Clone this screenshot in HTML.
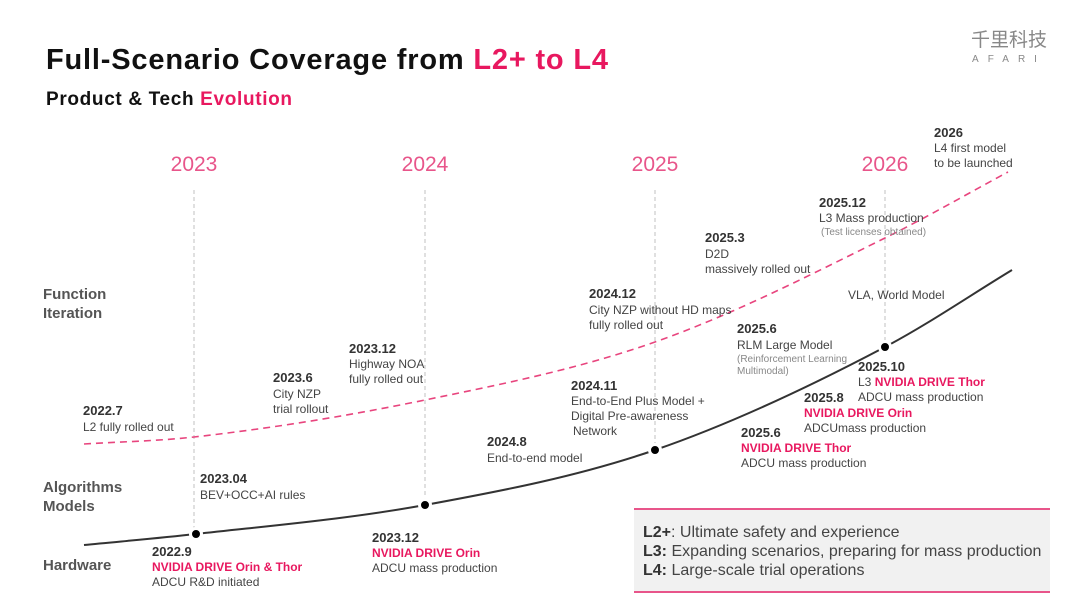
<!DOCTYPE html>
<html><head><meta charset="utf-8"><style>
body{margin:0;background:#fff;}
svg{display:block;font-family:"Liberation Sans","Noto Sans CJK SC",sans-serif;}
.d{font-size:13px;font-weight:bold;fill:#333}
.t{font-size:12px;fill:#444}
.p{font-size:12px;font-weight:bold;fill:#e8185f}
.s{font-size:10px;fill:#888}
.r{font-size:15px;font-weight:bold;fill:#555}
.y{font-size:21px;fill:#e8558a;text-anchor:middle}
</style></head><body>
<svg width="1080" height="608" viewBox="0 0 1080 608">
<text x="46" y="69" font-size="29" font-weight="bold" fill="#111" textLength="562">Full-Scenario Coverage from <tspan fill="#e8185f">L2+ to L4</tspan></text>
<text x="46" y="105" font-size="19" font-weight="bold" fill="#111" textLength="246">Product &amp; Tech <tspan fill="#e8185f">Evolution</tspan></text>
<text x="1009" y="46" font-size="19" fill="#888" text-anchor="middle">千里科技</text>
<text x="1009" y="62" font-size="10" fill="#888" text-anchor="middle" letter-spacing="9">AFARI</text>
<g id="grid"></g>
<g id="curves"></g>
<g>
<text class="r" x="43" y="299">Function</text><text class="r" x="43" y="318">Iteration</text>
<text class="r" x="43" y="492">Algorithms</text><text class="r" x="43" y="511">Models</text>
<text class="r" x="43" y="570">Hardware</text>
</g>
<g>
<text class="d" x="934" y="137">2026</text><text class="t" x="934" y="152">L4 first model</text><text class="t" x="934" y="167">to be launched</text>
<text class="d" x="819" y="207">2025.12</text><text class="t" x="819" y="222">L3 Mass production</text><text class="s" x="821" y="235">(Test licenses obtained)</text>
<text class="d" x="705" y="242">2025.3</text><text class="t" x="705" y="258">D2D</text><text class="t" x="705" y="273">massively rolled out</text>
<text class="d" x="589" y="298">2024.12</text><text class="t" x="589" y="314">City NZP without HD maps</text><text class="t" x="589" y="329">fully rolled out</text>
<text class="d" x="349" y="353">2023.12</text><text class="t" x="349" y="368">Highway NOA</text><text class="t" x="349" y="383">fully rolled out</text>
<text class="d" x="273" y="382">2023.6</text><text class="t" x="273" y="398">City NZP</text><text class="t" x="273" y="413">trial rollout</text>
<text class="d" x="83" y="415">2022.7</text><text class="t" x="83" y="431">L2 fully rolled out</text>
</g>
<g>
<text class="t" x="848" y="299">VLA, World Model</text>
<text class="d" x="737" y="333">2025.6</text><text class="t" x="737" y="349">RLM Large Model</text><text class="s" x="737" y="362">(Reinforcement Learning</text><text class="s" x="737" y="374">Multimodal)</text>
<text class="d" x="571" y="390">2024.11</text><text class="t" x="571" y="405">End-to-End Plus Model +</text><text class="t" x="571" y="420">Digital Pre-awareness</text><text class="t" x="573" y="435"> Network</text>
<text class="d" x="487" y="446">2024.8</text><text class="t" x="487" y="462">End-to-end model</text>
<text class="d" x="200" y="483">2023.04</text><text class="t" x="200" y="499">BEV+OCC+AI rules</text>
</g>
<g>
<text class="d" x="858" y="371">2025.10</text><text class="t" x="858" y="386">L3 <tspan class="p">NVIDIA DRIVE Thor</tspan></text><text class="t" x="858" y="401">ADCU mass production</text>
<text class="d" x="804" y="402">2025.8</text><text class="p" x="804" y="417">NVIDIA DRIVE Orin</text><text class="t" x="804" y="432">ADCUmass production</text>
<text class="d" x="741" y="437">2025.6</text><text class="p" x="741" y="452">NVIDIA DRIVE Thor</text><text class="t" x="741" y="467">ADCU mass production</text>
<text class="d" x="372" y="542">2023.12</text><text class="p" x="372" y="557">NVIDIA DRIVE Orin</text><text class="t" x="372" y="572">ADCU mass production</text>
<text class="d" x="152" y="556">2022.9</text><text class="p" x="152" y="571">NVIDIA DRIVE Orin &amp; Thor</text><text class="t" x="152" y="586">ADCU R&amp;D initiated</text>
</g>
<g>
<rect x="634" y="508" width="416" height="85" fill="#f1f1f1"/>
<line x1="634" y1="509" x2="1050" y2="509" stroke="#e8558a" stroke-width="2"/>
<line x1="634" y1="592" x2="1050" y2="592" stroke="#e8558a" stroke-width="2"/>
<text x="643" y="537" font-size="16" fill="#444"><tspan font-weight="bold" fill="#333">L2+</tspan>: Ultimate safety and experience</text>
<text x="643" y="556" font-size="16" fill="#444"><tspan font-weight="bold" fill="#333">L3:</tspan>  Expanding scenarios, preparing for mass production</text>
<text x="643" y="575" font-size="16" fill="#444"><tspan font-weight="bold" fill="#333">L4:</tspan>  Large-scale trial operations</text>
</g>
</svg>
<script>
const years=["2023","2024","2025","2026"];
const yearX=[194,425,655,885];
const hwX=[84,196,425,655,885,1012];
const hwY=[545,534,505,450,347,270];
const fnX=[84,194,425,655,885,1008];
const fnY=[444,437,400,342,238,172];
const dotIdx=[1,2,3,4];
const NS="http://www.w3.org/2000/svg";
function mk(t,a,p){const e=document.createElementNS(NS,t);for(const k in a)e.setAttribute(k,a[k]);p.appendChild(e);return e;}
function path(xs,ys){let d="M"+xs[0]+","+ys[0];const n=xs.length;const m=[];for(let i=0;i<n;i++){const a=i>0?(ys[i]-ys[i-1])/(xs[i]-xs[i-1]):null,b=i<n-1?(ys[i+1]-ys[i])/(xs[i+1]-xs[i]):null;m.push(a===null?b:b===null?a:(a+b)/2);}
for(let i=0;i<n-1;i++){const h=(xs[i+1]-xs[i])/3;d+=" C"+(xs[i]+h)+","+(ys[i]+m[i]*h)+" "+(xs[i+1]-h)+","+(ys[i+1]-m[i+1]*h)+" "+xs[i+1]+","+ys[i+1];}return d;}
const g=document.getElementById("grid"),c=document.getElementById("curves");
years.forEach((y,i)=>{
const t=mk("text",{class:"y",x:yearX[i],y:171},g);t.textContent=y;


const l=mk("line",{x1:yearX[i],y1:190,x2:yearX[i],y2:hwY[dotIdx[i]]-5,stroke:"#ccc","stroke-width":1.2,"stroke-dasharray":"4 3"},g);


});
const f=mk("path",{d:path(fnX,fnY),fill:"none",stroke:"#e8457e","stroke-width":1.6,"stroke-dasharray":"7 5"},c);


const h=mk("path",{d:path(hwX,hwY),fill:"none",stroke:"#333","stroke-width":2},c);


dotIdx.forEach(i=>{
const d=mk("circle",{cx:hwX[i],cy:hwY[i],r:5.5,fill:"#000",stroke:"#fff","stroke-width":3},c);


});
</script>
</body></html>
